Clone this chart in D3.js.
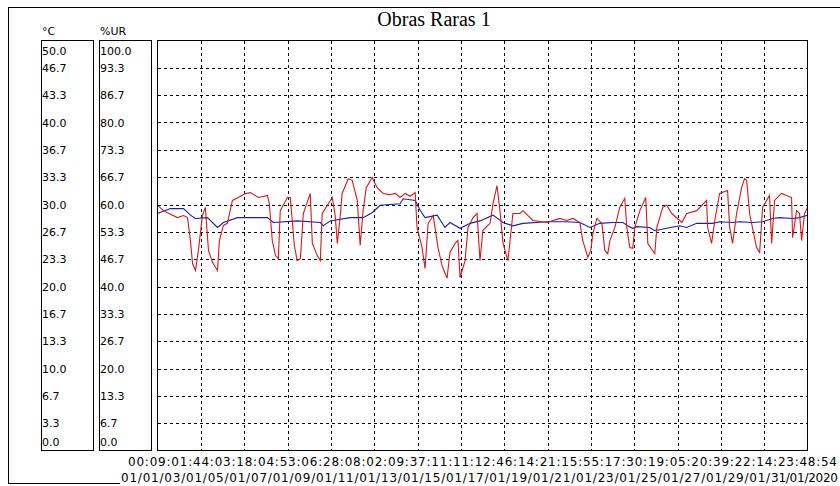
<!DOCTYPE html>
<html>
<head>
<meta charset="utf-8">
<script src="https://cdn.jsdelivr.net/npm/d3@7"></script>
<style>
  body { margin: 0; background: #fff; }
  text { font-family: "DejaVu Sans", Verdana, sans-serif; font-size: 11px; fill: #000; }
  text.xl { font-size: 12px; }
</style>
</head>
<body>
<script>
// Chart title
const chartTitle = "Obras Raras 1";

// Tick labels of the two value boxes (top to bottom)
const tempTicks = ["50.0","46.7","43.3","40.0","36.7","33.3","30.0","26.7","23.3","20.0","16.7","13.3","10.0","6.7","3.3","0.0"];
const humTicks = ["100.0","93.3","86.7","80.0","73.3","66.7","60.0","53.3","46.7","40.0","33.3","26.7","20.0","13.3","6.7","0.0"];

// Time axis labels, one per vertical grid line (only hh:mm shows, the next label covers the rest)
const timeLabels = ["00:09","01:44","03:18","04:53","06:28","08:02","09:37","11:11",
  "12:46","14:21","15:55","17:30","19:05","20:39","22:14","23:48:54"];
const dateLabels = ["01/01","03/01","05/01","07/01","09/01","11/01","13/01","15/01",
  "17/01","19/01","21/01","23/01","25/01","27/01","29/01","31/01/2020"];

// Length of the record in days (00:09 01/01 -> 23:48 31/01)
const totalDays = 30.98;

// Relative humidity (%UR), red line: day offset and value
const humDays = [0.00,0.29,0.62,0.95,1.24,1.43,1.57,1.67,1.81,1.95,2.14,2.28,2.43,2.62,2.86,2.95,3.14,3.33,3.57,3.85,
  4.19,4.43,4.81,5.24,5.33,5.47,5.62,5.76,5.85,6.19,6.33,6.52,6.66,6.81,6.95,7.28,7.38,7.61,7.76,7.85,
  8.33,8.47,8.57,8.71,8.80,9.09,9.28,9.52,9.66,9.80,9.95,10.23,10.47,10.76,11.09,11.33,11.56,11.80,12.04,12.28,
  12.37,12.61,12.75,12.90,13.14,13.37,13.56,13.80,13.94,14.18,14.32,14.42,14.66,14.80,15.04,15.23,15.37,15.51,15.85,15.99,
  16.18,16.32,16.47,16.70,16.94,17.27,17.42,17.89,18.56,19.18,19.51,19.80,20.13,20.27,20.51,20.65,20.75,20.94,21.18,21.32,
  21.46,21.56,21.80,22.03,22.27,22.37,22.51,22.65,22.75,22.99,23.27,23.37,23.70,23.80,24.08,24.27,24.51,24.89,24.99,25.22,
  25.70,26.17,26.22,26.41,26.56,26.79,27.17,27.27,27.41,27.60,27.84,27.98,28.08,28.22,28.55,28.70,28.84,29.17,29.27,29.41,
  29.74,30.22,30.27,30.46,30.60,30.70,30.84,30.98];
const humValues = [59.8,58.5,57.6,56.8,57.3,56.8,51.2,45.6,43.9,48.8,57.3,59.3,48.8,45.9,43.9,51.2,54.9,55.4,61.0,61.7,
  62.7,62.9,61.7,62.2,60.2,51.2,47.6,46.8,58.5,61.7,61.7,50.0,46.3,46.8,57.8,62.7,50.5,47.6,46.3,57.8,
  61.7,57.3,50.5,57.3,62.7,66.3,65.9,61.0,50.0,58.5,64.1,66.6,64.1,62.7,62.4,62.7,61.7,62.7,62.0,62.9,
  54.4,49.5,44.4,55.4,57.3,49.5,45.1,42.0,48.3,50.5,51.2,42.2,46.3,54.4,56.8,57.8,46.3,53.7,55.4,60.2,
  64.6,58.5,50.5,46.3,57.8,57.8,58.5,56.1,55.6,56.6,56.1,56.6,55.6,51.2,47.1,48.8,52.9,56.6,55.4,48.8,
  48.0,51.2,54.4,59.3,61.5,54.4,49.5,49.3,54.4,58.5,61.7,50.5,48.0,54.4,59.3,59.8,57.8,56.1,55.6,57.8,
  58.5,61.0,54.4,50.5,56.1,62.7,63.4,54.4,50.5,57.8,64.1,66.3,65.9,57.8,49.5,48.3,59.3,62.2,50.5,61.0,
  62.7,61.7,51.9,58.5,57.8,51.2,57.8,59.3];

// Temperature (°C), blue line: day offset and value
const tempDays = [0.00,0.62,1.24,1.57,1.81,2.38,2.86,3.14,3.81,5.24,5.52,6.66,7.76,7.90,8.23,9.18,9.80,10.23,10.61,11.56,
  11.71,12.28,12.52,12.75,13.33,13.70,13.94,14.42,14.90,15.37,15.99,16.47,16.94,17.42,18.56,19.51,20.13,20.61,21.08,21.70,
  22.18,22.41,22.65,22.84,23.46,23.70,24.27,24.89,25.22,25.70,26.46,26.79,27.41,27.75,28.37,28.84,29.32,29.65,30.27,30.60,30.98];
const tempValues = [28.9,29.5,29.5,28.7,28.3,28.4,27.2,27.8,28.4,28.4,27.8,28.0,27.8,27.4,28.0,28.4,28.4,29.0,29.9,30.1,
  30.7,30.5,29.3,28.4,28.7,27.2,27.8,27.1,27.7,28.0,28.7,27.8,27.4,27.7,27.9,27.9,27.8,27.2,27.7,27.8,
  27.8,27.4,27.1,27.3,27.2,26.8,27.1,27.4,27.2,27.7,27.7,27.9,27.8,27.9,27.8,27.9,28.3,28.4,28.3,28.4,28.7];

const width = 840, height = 486;
const plot = { left: 157.5, right: 807.5, top: 40.5, bottom: 450.5 };

const svg = d3.select('body').append('svg')
  .attr('width', width)
  .attr('height', height);

svg.append('rect').attr('width', width).attr('height', height).attr('fill', '#fff');

// Scales
const x = d3.scaleLinear().domain([0, totalDays]).range([plot.left, plot.right]);
const yTemp = d3.scaleLinear().domain([0, 50]).range([plot.bottom, plot.top]);
const yHum = d3.scaleLinear().domain([0, 100]).range([plot.bottom, plot.top]);

// Outer frame (right side runs off the picture)
svg.append('path')
  .attr('d', `M${width + 5},7.5 H8.5 V483.5 H${width + 5}`)
  .attr('fill', 'none').attr('stroke', '#000').attr('shape-rendering', 'crispEdges');

// Title
svg.append('text')
  .attr('x', 434).attr('y', 26)
  .attr('text-anchor', 'middle')
  .style('font-family', '"Liberation Serif", "Times New Roman", serif')
  .style('font-size', '20px')
  .text(chartTitle);

// Unit headers
svg.append('text').attr('x', 42).attr('y', 35).text('°C');
svg.append('text').attr('x', 100).attr('y', 35).text('%UR');

// Value boxes
[[41.5, 93.5], [99.5, 151.5]].forEach(([x0, x1]) => {
  svg.append('rect')
    .attr('x', x0).attr('y', plot.top)
    .attr('width', x1 - x0).attr('height', plot.bottom - plot.top)
    .attr('fill', 'none').attr('stroke', '#000').attr('shape-rendering', 'crispEdges');
});

// Box labels: top one sits below the edge, bottom one above, others centered
function boxLabels(labels, scale, xPos) {
  const n = labels.length - 1;
  svg.append('g').selectAll('text')
    .data(labels)
    .join('text')
    .attr('x', xPos)
    .attr('y', (d, i) => {
      const y = scale(+d);
      if (i === 0) return y + 14.5;
      if (i === n) return y - 4.5;
      return y + 4;
    })
    .text(d => d);
}
boxLabels(tempTicks, yTemp, 42);
boxLabels(humTicks, yHum, 100);

// Plot grid
const grid = svg.append('g')
  .attr('stroke', '#000')
  .attr('stroke-dasharray', '3,3')
  .attr('shape-rendering', 'crispEdges');

const hLevels = tempTicks.map(Number).filter(v => v > 0 && v < 50);
grid.selectAll('line.h')
  .data(hLevels)
  .join('line')
  .attr('class', 'h')
  .attr('x1', plot.left).attr('x2', plot.right)
  .attr('y1', d => Math.round(yTemp(d)) + 0.5)
  .attr('y2', d => Math.round(yTemp(d)) + 0.5);

const nDiv = timeLabels.length - 1;
const vDays = d3.range(1, nDiv).map(i => i * totalDays / nDiv);
grid.selectAll('line.v')
  .data(vDays)
  .join('line')
  .attr('class', 'v')
  .attr('y1', plot.top).attr('y2', plot.bottom)
  .attr('x1', d => Math.round(x(d)) + 0.5)
  .attr('x2', d => Math.round(x(d)) + 0.5);

// Series lines
const humLine = d3.line()
  .x((d, i) => x(humDays[i]))
  .y(d => yHum(d));
const tempLine = d3.line()
  .x((d, i) => x(tempDays[i]))
  .y(d => yTemp(d));

svg.append('path')
  .attr('d', tempLine(tempValues))
  .attr('fill', 'none').attr('stroke', '#1c1ca8').attr('stroke-width', 1.1);

svg.append('path')
  .attr('d', humLine(humValues))
  .attr('fill', 'none').attr('stroke', '#d81818').attr('stroke-width', 1.1);

// Plot border
svg.append('rect')
  .attr('x', plot.left).attr('y', plot.top)
  .attr('width', plot.right - plot.left).attr('height', plot.bottom - plot.top)
  .attr('fill', 'none').attr('stroke', '#000').attr('shape-rendering', 'crispEdges');

// Time / date labels: white band hides the frame's bottom edge under the dates
svg.append('rect').attr('x', 120).attr('y', 470).attr('width', width - 120).attr('height', 16).attr('fill', '#fff');

function xLabels(labels, y, offset, partLen, fullLen, sep) {
  svg.append('g').selectAll('text')
    .data(labels)
    .join('text')
    .attr('class', 'xl')
    .attr('x', (d, i) => x(i * totalDays / nDiv) + offset)
    .attr('y', y)
    .attr('lengthAdjust', 'spacing')
    .attr('textLength', (d, i) => i === nDiv ? fullLen : partLen)
    .text((d, i) => i === nDiv ? d : d + sep);
}
xLabels(timeLabels, 465.5, -29.5, 42.5, 59, ':');
xLabels(dateLabels, 482, -36.5, 42.5, 67, '/');
</script>
</body>
</html>
